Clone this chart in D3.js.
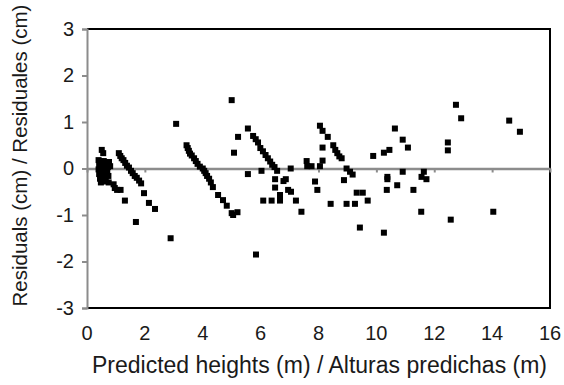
<!DOCTYPE html>
<html>
<head>
<meta charset="utf-8">
<script src="https://cdn.jsdelivr.net/npm/d3@7"></script>
<style>
  body { margin: 0; background: #fff; }
  svg text { font-family: "Liberation Sans", Arial, sans-serif; fill: #1a1a1a; }
</style>
</head>
<body>
<svg id="chart" width="564" height="385"></svg>
<script>
// predicted heights (m) and matching residuals (cm)
const predicted = [
  0.51, 0.56, 0.40, 0.48, 0.58, 0.68, 0.76, 0.42, 0.52, 0.62, 0.72, 0.80,
  0.40, 0.50, 0.60, 0.70, 0.42, 0.52, 0.62, 0.74, 0.45, 0.55, 0.65, 0.48,
  0.58, 0.75, 0.92, 0.96, 1.04, 1.16, 1.31, 1.69, 2.89,
  1.10, 1.15, 1.20, 1.26, 1.32, 1.38, 1.45, 1.52, 1.58, 1.65, 1.72, 1.80,
  1.87, 1.97, 2.14, 2.35,
  3.08, 3.44, 3.48, 3.52, 3.56, 3.62, 3.70, 3.76, 3.82, 3.90, 4.00, 4.05,
  4.10, 4.15, 4.22, 4.28, 4.35, 4.53, 4.70, 4.83, 5.00, 5.05, 5.20,
  5.00, 5.08, 5.22, 5.56, 5.56, 5.84,
  5.74, 5.83, 5.91, 5.99, 6.08, 6.17, 6.25, 6.33, 6.40, 6.48, 6.57,
  6.03, 6.50, 6.79, 6.87, 6.50, 6.95, 7.05, 6.67, 6.09, 6.38, 6.67, 7.22,
  7.41, 7.04,
  7.59, 7.76, 7.61, 8.05, 7.88, 7.96, 8.05, 8.14, 8.32, 8.51, 8.58, 8.65,
  8.72, 8.80, 8.14, 8.14, 8.97, 9.09, 9.18, 8.88, 8.42, 8.97, 9.26,
  9.89, 9.32, 9.53, 9.70, 9.43, 10.26, 10.45, 10.64, 10.91, 11.09, 10.91,
  10.38, 10.38, 10.36, 10.72, 11.28, 10.26, 11.64, 11.56, 11.73, 11.55,
  12.47, 12.47, 12.75, 12.93, 12.57, 14.04, 14.59, 14.96
];
const residuals = [
  0.40, 0.33, 0.18, 0.15, 0.16, 0.12, 0.14, 0.08, 0.06, 0.07, 0.03, 0.05,
  -0.02, -0.04, -0.01, -0.06, -0.12, -0.14, -0.10, -0.16, -0.22, -0.24, -0.20, -0.30,
  -0.28, -0.30, -0.34, -0.42, -0.46, -0.46, -0.69, -1.15, -1.50,
  0.33, 0.27, 0.22, 0.18, 0.12, 0.06, 0.02, -0.05, -0.10, -0.16, -0.20, -0.26,
  -0.32, -0.53, -0.74, -0.87,
  0.96, 0.50, 0.44, 0.38, 0.32, 0.28, 0.22, 0.16, 0.10, 0.04, 0.00, -0.05,
  -0.10, -0.16, -0.22, -0.30, -0.40, -0.57, -0.68, -0.80, -0.96, -1.00, -0.94,
  1.47, 0.34, 0.68, 0.86, -0.12, -1.85,
  0.70, 0.63, 0.56, 0.44, 0.37, 0.29, 0.22, 0.15, 0.08, 0.03, -0.05,
  -0.05, -0.23, -0.27, -0.23, -0.41, -0.46, -0.50, -0.57, -0.69, -0.69, -0.69, -0.69,
  -0.93, 0.00,
  0.16, 0.05, 0.05, 0.05, -0.28, -0.46, 0.92, 0.81, 0.68, 0.50, 0.40, 0.33,
  0.26, 0.22, 0.45, 0.17, 0.00, -0.07, -0.13, -0.25, -0.76, -0.76, -0.76,
  0.27, -0.52, -0.52, -0.69, -1.27, 0.34, 0.40, 0.86, 0.62, 0.45, -0.07,
  -0.18, -0.23, -0.46, -0.36, -0.46, -1.38, -0.07, -0.18, -0.23, -0.93,
  0.56, 0.39, 1.37, 1.08, -1.10, -0.93, 1.03, 0.79
];
const xTicks = [0, 2, 4, 6, 8, 10, 12, 14, 16];
const yTicks = [-3, -2, -1, 0, 1, 2, 3];

const svg = d3.select("#chart");
const grid = { left: 87, right: 550, top: 29, bottom: 308 };

const x = d3.scaleLinear().domain([0, 16]).range([grid.left, grid.right]);
const y = d3.scaleLinear().domain([-3, 3]).range([grid.bottom, grid.top]);

// plot frame (top, right, bottom black)
svg.append("path")
  .attr("d", `M${grid.left},${grid.top}H${grid.right}V${grid.bottom}H${grid.left}`)
  .attr("fill", "none")
  .attr("stroke", "#000")
  .attr("stroke-width", 2);

// y axis, gray, ticks to the left
const yAxis = svg.append("g")
  .attr("transform", `translate(${grid.left},0)`)
  .call(d3.axisLeft(y).tickValues(yTicks).tickSize(5).tickPadding(8).tickFormat(d3.format("d")));
yAxis.select(".domain").attr("stroke", "#8c8c8c").attr("stroke-width", 2);
yAxis.selectAll(".tick line").attr("stroke", "#8c8c8c").attr("stroke-width", 2);
yAxis.selectAll("text").attr("font-size", 20).attr("fill", "#1a1a1a")
  .attr("font-family", "'Liberation Sans', Arial, sans-serif")
  .text(d => d < 0 ? "-" + Math.abs(d) : d);

// x axis on the zero line, labels at the bottom
const xAxis = svg.append("g")
  .attr("transform", `translate(0,${y(0)})`)
  .call(d3.axisBottom(x).tickValues(xTicks).tickSize(4).tickSizeOuter(0).tickFormat(""));
xAxis.select(".domain").attr("stroke", "#8c8c8c").attr("stroke-width", 2.5);
xAxis.selectAll(".tick line").attr("stroke", "#8c8c8c").attr("stroke-width", 2);

svg.append("g").selectAll("text")
  .data(xTicks)
  .join("text")
  .attr("x", d => x(d))
  .attr("y", 340)
  .attr("text-anchor", "middle")
  .attr("font-size", 20)
  .text(d => d);

// points
const pts = predicted.map((p, i) => ({ p, r: residuals[i] }));
const sz = 6;
svg.append("g").selectAll("rect")
  .data(pts)
  .join("rect")
  .attr("x", d => x(d.p) - sz / 2)
  .attr("y", d => y(d.r) - sz / 2)
  .attr("width", sz)
  .attr("height", sz)
  .attr("fill", "#000");

// titles
svg.append("text")
  .attr("x", (grid.left + grid.right) / 2 + 1)
  .attr("y", 373)
  .attr("text-anchor", "middle")
  .attr("font-size", 23)
  .text("Predicted heights (m) / Alturas predichas (m)");

svg.append("text")
  .attr("transform", `translate(27,${(grid.top + grid.bottom) / 2 - 13}) rotate(-90)`)
  .attr("text-anchor", "middle")
  .attr("font-size", 20.5)
  .text("Residuals (cm) / Residuales (cm)");
</script>
</body>
</html>
